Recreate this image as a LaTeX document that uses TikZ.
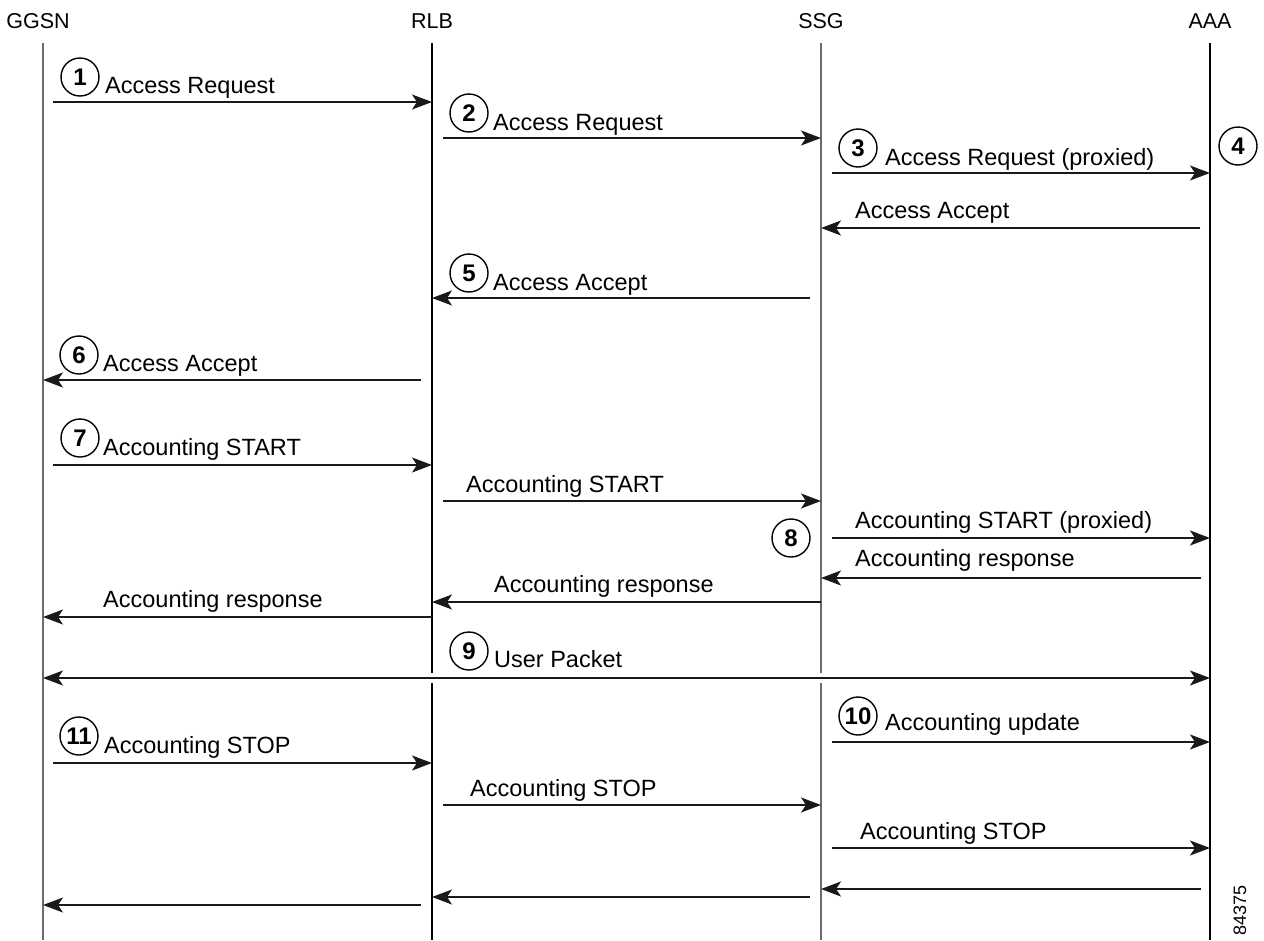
\documentclass[tikz,border=0pt]{standalone}
\usepackage{fontspec}
\setmainfont{Liberation Sans}
\usetikzlibrary{arrows.meta}

% one signal between two lifelines: name, start x, end x, y
\newcommand{\sigline}[5][msg]{%
  \coordinate (#2s) at (#3,#5);
  \coordinate (#2e) at (#4,#5);
  \draw[#1] (#2s) -- (#2e);}

\begin{document}
\begin{tikzpicture}[x=1pt,y=-1pt,
  hdr/.style={anchor=base, inner sep=0pt, font=\fontsize{21.5}{26}\selectfont},
  lbl/.style={anchor=base west, inner sep=0pt, font=\fontsize{23.5}{28}\selectfont},
  num/.style={circle, draw, line width=1.4pt, minimum size=38pt, inner sep=0pt,
              font=\fontsize{24}{28}\selectfont\bfseries},
  lifeg/.style={line width=1.9pt, draw=black!58},
  lifek/.style={line width=1.3pt, draw=black},
  tip/.style={Stealth[length=20pt,width=15pt,inset=5pt]},
  msg/.style={line width=1.9pt, draw=black!90, -{Stealth[length=20pt,width=15pt,inset=5pt]}},
  both/.style={line width=1.9pt, draw=black!90,
    {Stealth[length=20pt,width=15pt,inset=5pt]}-{Stealth[length=20pt,width=15pt,inset=5pt]}},
]
\useasboundingbox (0,0) rectangle (1264,940);

% entities
\node[hdr] (ggsn) at (38,28) {GGSN};
\node[hdr] (rlb)  at (432,28) {RLB};
\node[hdr] (ssg)  at (821,28) {SSG};
\node[hdr] (aaa)  at (1210,28) {AAA};

% lifelines
\coordinate (gT) at (43,43);   \coordinate (gB) at (43,940);
\coordinate (rT) at (432,43);  \coordinate (rM1) at (432,673);
\coordinate (rM2) at (432,683); \coordinate (rB) at (432,940);
\coordinate (sT) at (821,43);  \coordinate (sM1) at (821,673);
\coordinate (sM2) at (821,683); \coordinate (sB) at (821,940);
\coordinate (aT) at (1210,43); \coordinate (aB) at (1210,940);
\draw[lifeg] (gT) -- (gB);
\draw[lifek] (rT) -- (rM1);  \draw[lifek] (rM2) -- (rB);
\draw[lifeg] (sT) -- (sM1);  \draw[lifeg] (sM2) -- (sB);
\draw[lifek] (aT) -- (aB);

% signals
\sigline{m1}{53}{432}{102}
\sigline{m2}{443}{821}{138}
\sigline{m3}{832}{1210}{173}
\sigline{m4}{1200}{821}{228}
\sigline{m5}{810}{432}{298}
\sigline{m6}{421}{43}{380}
\sigline{m7}{53}{432}{465}
\sigline{m8}{443}{821}{501}
\sigline{m9}{832}{1210}{538}
\sigline{m10}{1201}{821}{578}
\sigline{m11}{821}{432}{602}
\sigline{m12}{432}{43}{617}
\sigline[both]{m13}{43}{1210}{678}
\sigline{m14}{832}{1210}{742}
\sigline{m15}{53}{432}{763}
\sigline{m16}{443}{821}{805}
\sigline{m17}{832}{1210}{848}
\sigline{m18}{1201}{821}{889}
\sigline{m19}{810}{432}{897}
\sigline{m20}{421}{43}{905}

% labels
\node[lbl] (t1)  at (105,93)  {Access Request};
\node[lbl] (t2)  at (493,130) {Access Request};
\node[lbl] (t3)  at (885,165) {Access Request (proxied)};
\node[lbl] (t4)  at (855,218) {Access Accept};
\node[lbl] (t5)  at (493,290) {Access Accept};
\node[lbl] (t6)  at (103,371) {Access Accept};
\node[lbl] (t7)  at (103,455) {Accounting START};
\node[lbl] (t8)  at (466,492) {Accounting START};
\node[lbl] (t9)  at (855,528) {Accounting START (proxied)};
\node[lbl] (t10) at (855,566) {Accounting response};
\node[lbl] (t11) at (494,592) {Accounting response};
\node[lbl] (t12) at (103,607) {Accounting response};
\node[lbl] (t13) at (494,667) {User Packet};
\node[lbl] (t14) at (885,730) {Accounting update};
\node[lbl] (t15) at (104,753) {Accounting STOP};
\node[lbl] (t16) at (470,796) {Accounting STOP};
\node[lbl] (t17) at (860,839) {Accounting STOP};

% step numbers
\node[num] (c1)  at (80,77)    {1};
\node[num] (c2)  at (469,113)  {2};
\node[num] (c3)  at (858,148)  {3};
\node[num] (c4)  at (1238,146) {4};
\node[num] (c5)  at (469,273)  {5};
\node[num] (c6)  at (79,355)   {6};
\node[num] (c7)  at (80,438)   {7};
\node[num] (c8)  at (791,538)  {8};
\node[num] (c9)  at (469,651)  {9};
\node[num] (c10) at (858,716)  {10};
\node[num] (c11) at (79,736)   {11};

% figure number
\node[rotate=90, inner sep=0pt, font=\fontsize{18}{20}\selectfont] (fig) at (1240,910) {84375};
\end{tikzpicture}
\end{document}
